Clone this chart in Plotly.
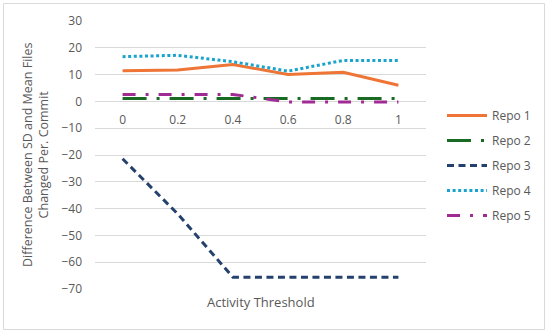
import plotly.graph_objects as go

thresholds = ["0", "0.2", "0.4", "0.6", "0.8", "1"]
repo1 = [11.4, 11.7, 13.8, 10.0, 10.9, 6.0]
repo2 = [1.1, 1.1, 1.1, 1.1, 1.1, 1.1]
repo3 = [-21.4, -42.0, -65.6, -65.6, -65.6, -65.6]
repo4 = [16.7, 17.2, 14.8, 11.3, 15.3, 15.3]
repo5 = [2.6, 2.7, 2.6, -0.2, -0.2, -0.2]
names = ["Repo 1", "Repo 2", "Repo 3", "Repo 4", "Repo 5"]
y_ticks = [30, 20, 10, 0, -10, -20, -30, -40, -50, -60, -70]

series = [repo1, repo2, repo3, repo4, repo5]
colors = ["#EE7535", "#196B24", "#24416E", "#1AA3CC", "#A02B93"]
dashes = ["solid", "24px,10px,3px,10px", "7px,4.5px", "3px,2.6px", "13px,10px,3px,10px"]

FONT = "Open Sans"
GRAY = "#595959"

fig = go.Figure()
for i, (nm, vals) in enumerate(zip(names, series)):
    fig.add_trace(go.Scatter(
        x=thresholds, y=vals, name=nm, mode="lines",
        legendgroup=nm,
        line=dict(color=colors[i], width=3, dash=dashes[i]),
    ))

L, R, T, B = 95, 124, 21, 44
W, H = 550, 333
pw, ph = W - L - R, H - T - B

def px_x(p):
    return (p - L) / pw

def px_y(p):
    return (H - B - p) / ph

fig.update_layout(
    width=W, height=H,
    margin=dict(l=L, r=R, t=T, b=B, autoexpand=False),
    paper_bgcolor="white", plot_bgcolor="white",
    font=dict(family=FONT, size=12, color=GRAY),
    showlegend=True,
    legend=dict(
        x=px_x(442), y=px_y(101), xanchor="left", yanchor="top",
        font=dict(family=FONT, size=12, color=GRAY),
        traceorder="grouped", tracegroupgap=6, itemwidth=40,
        bgcolor="rgba(0,0,0,0)",
    ),
    xaxis=dict(
        type="category", anchor="free", position=0.7,
        range=[-0.5, len(thresholds) - 0.5],
        showgrid=False, showline=False, zeroline=False,
        tickfont=dict(family=FONT, size=12, color=GRAY),
        ticks="", ticklabelstandoff=10,
    ),
    yaxis=dict(
        range=[-70, 30], tickvals=y_ticks,
        showgrid=True, gridcolor="#D9D9D9", gridwidth=1,
        zeroline=False, showline=False, ticks="",
        tickfont=dict(family=FONT, size=12, color=GRAY),
        ticklabelstandoff=12,
    ),
    shapes=[dict(
        type="rect", xref="paper", yref="paper",
        x0=px_x(3.5), x1=px_x(544.5), y0=px_y(329.5), y1=px_y(3.5),
        line=dict(color="#D9D9D9", width=1), fillcolor="rgba(0,0,0,0)", layer="below",
    )],
    annotations=[
        dict(text="Activity Threshold", xref="paper", yref="paper",
             x=0.5, y=px_y(302), xanchor="center", yanchor="middle",
             showarrow=False, font=dict(family=FONT, size=13, color=GRAY)),
        dict(text="Difference Between SD and Mean Files<br>Changed Per. Commit",
             xref="paper", yref="paper", x=px_x(35), y=0.5,
             xanchor="center", yanchor="middle", textangle=-90,
             showarrow=False, font=dict(family=FONT, size=12.5, color=GRAY)),
    ],
)

fig.write_html(
    "out.html",
    config={"displayModeBar": False},
    post_script="document.body.style.margin='0';document.body.style.overflow='hidden';",
)
